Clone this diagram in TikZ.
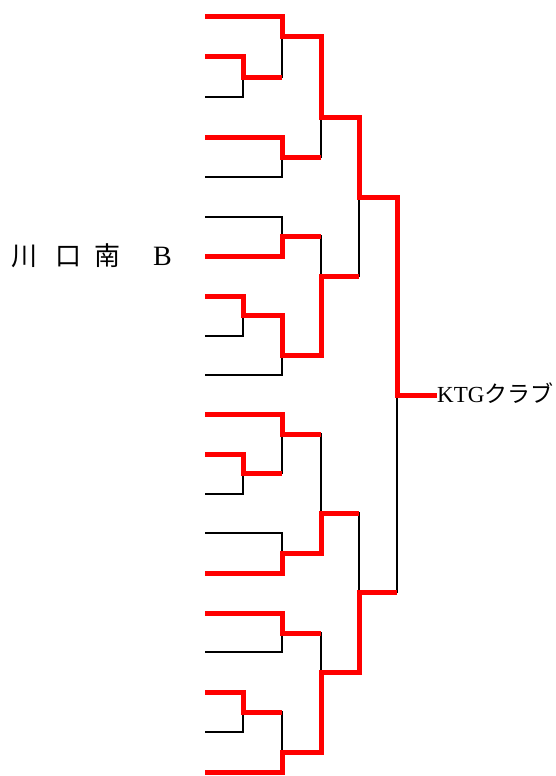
\documentclass[tikz,border=0pt]{standalone}
\usepackage{fontspec}
\setmainfont{Liberation Serif}
\newfontfamily\cjk{Noto Sans CJK JP}
\begin{document}
\begin{tikzpicture}[x=1pt,y=-1pt,
  loseline/.style={black,line width=2.4pt},
  winline/.style={red,line width=5pt,line join=miter}]
\useasboundingbox (0,0) rectangle (555,776);
% team entry points
\foreach \i/\y in {1/17,2/57,3/97,4/137,5/177,6/217,7/256,8/296,9/336,10/375,
  11/414,12/454,13/494,14/533,15/573,16/613,17/652,18/692,19/732,20/772}
  \coordinate (t\i) at (205,\y);
% match points
\coordinate (m1) at (243,77);
\coordinate (m2) at (243,315);
\coordinate (m3) at (243,473);
\coordinate (m4) at (243,712);
\coordinate (m5) at (282,37);
\coordinate (m6) at (282,157);
\coordinate (m7) at (282,236);
\coordinate (m8) at (282,355);
\coordinate (m9) at (282,434);
\coordinate (m10) at (282,553);
\coordinate (m11) at (282,633);
\coordinate (m12) at (282,752);
\coordinate (m13) at (321,117);
\coordinate (m14) at (321,276);
\coordinate (m15) at (321,513);
\coordinate (m16) at (321,672);
\coordinate (m17) at (359,197);
\coordinate (m18) at (359,592);
\coordinate (m19) at (397,395);
% labels
\node[anchor=base west, inner sep=0pt, font=\fontsize{23}{23}\selectfont] (champ) at (437,402) {KTG{\cjk クラブ}};
\node[anchor=base west, inner sep=0pt, font=\fontsize{26}{26}\selectfont] (kawa) at (11,265)
  {{\cjk 川}\hspace{18pt}{\cjk 口}\hspace{13pt}{\cjk 南}\hspace{33pt}{\fontsize{28}{28}\selectfont B}};
% full bracket in black
\draw[loseline] (t1) -| (m5);  \draw[loseline] (t2) -| (m1);
\draw[loseline] (t3) -| (m1);  \draw[loseline] (t4) -| (m6);
\draw[loseline] (t5) -| (m6);  \draw[loseline] (t6) -| (m7);
\draw[loseline] (t7) -| (m7);  \draw[loseline] (t8) -| (m2);
\draw[loseline] (t9) -| (m2);  \draw[loseline] (t10) -| (m8);
\draw[loseline] (t11) -| (m9); \draw[loseline] (t12) -| (m3);
\draw[loseline] (t13) -| (m3); \draw[loseline] (t14) -| (m10);
\draw[loseline] (t15) -| (m10);\draw[loseline] (t16) -| (m11);
\draw[loseline] (t17) -| (m11);\draw[loseline] (t18) -| (m4);
\draw[loseline] (t19) -| (m4); \draw[loseline] (t20) -| (m12);
\draw[loseline] (m1) -| (m5);  \draw[loseline] (m2) -| (m8);
\draw[loseline] (m3) -| (m9);  \draw[loseline] (m4) -| (m12);
\draw[loseline] (m5) -| (m13); \draw[loseline] (m6) -| (m13);
\draw[loseline] (m7) -| (m14); \draw[loseline] (m8) -| (m14);
\draw[loseline] (m9) -| (m15); \draw[loseline] (m10) -| (m15);
\draw[loseline] (m11) -| (m16);\draw[loseline] (m12) -| (m16);
\draw[loseline] (m13) -| (m17);\draw[loseline] (m14) -| (m17);
\draw[loseline] (m15) -| (m18);\draw[loseline] (m16) -| (m18);
\draw[loseline] (m17) -| (m19);\draw[loseline] (m18) -| (m19);
% winning paths in red
\draw[winline] (t1) -| (m5) -| (m13) -| (m17) -| (m19) -- (m19 -| champ.west);
\draw[winline] (t2) -| (m1) -- (m1 -| m5);
\draw[winline] (t4) -| (m6) -- (m6 -| m13);
\draw[winline] (t7) -| (m7) -- (m7 -| m14);
\draw[winline] (t8) -| (m2) -| (m8) -| (m14) -- (m14 -| m17);
\draw[winline] (t11) -| (m9) -- (m9 -| m15);
\draw[winline] (t12) -| (m3) -- (m3 -| m9);
\draw[winline] (t15) -| (m10) -| (m15) -- (m15 -| m18);
\draw[winline] (t16) -| (m11) -- (m11 -| m16);
\draw[winline] (t18) -| (m4) -- (m4 -| m12);
\draw[winline] (t20) -| (m12) -| (m16) -| (m18) -- (m18 -| m19);
\end{tikzpicture}
\end{document}
